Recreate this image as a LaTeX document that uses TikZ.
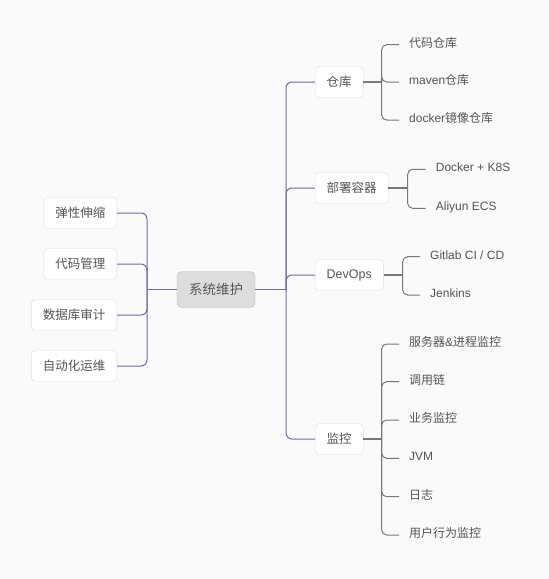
\documentclass[tikz,border=0pt]{standalone}
\usepackage{fontspec}
\setmainfont{Liberation Sans}
\newfontfamily\cjk{Noto Sans CJK SC}

\definecolor{bg}{HTML}{FAFAFA}
\definecolor{mainline}{HTML}{7168B0}
\definecolor{subline}{HTML}{7D7575}
\definecolor{txt}{HTML}{555555}
\definecolor{boxline}{HTML}{DCDCDC}
\definecolor{rootfill}{HTML}{DDDDDD}
\definecolor{rootline}{HTML}{B4B4B4}

\tikzset{
  topic/.style={draw=boxline, fill=white, rounded corners=4pt, minimum height=31pt,
    inner xsep=11.5pt, inner ysep=0pt, text=txt, font=\fontsize{12.5}{15}\selectfont},
  leaf/.style={anchor=west, inner xsep=10pt, inner ysep=2pt, text height=8pt,
    text depth=3pt, text=txt, font=\fontsize{12}{14}\selectfont},
  mainlink/.style={draw=mainline, line width=1pt, rounded corners=6pt},
  sublink/.style={draw=subline, line width=1pt, rounded corners=5pt},
}

\begin{document}
\begin{tikzpicture}[x=1pt,y=-1pt]

        \fill[bg] (0,0) rectangle (549,579);
        \useasboundingbox (0,0) rectangle (549,579);

        \node[draw=rootline, fill=rootfill, rounded corners=5pt, minimum width=78pt,
          minimum height=36pt, text=txt, font=\fontsize{13.5}{16}\selectfont]
          (root) at (216,289.5) {\cjk 系统维护};

        \begin{scope}[every node/.style={topic,anchor=east}]
          \node (tanxing) at (117,213) {\cjk 弹性伸缩};
          \node (daima)   at (117,264) {\cjk 代码管理};
          \node (shuju)   at (117,315) {\cjk 数据库审计};
          \node (zidong)  at (117,366) {\cjk 自动化运维};
        \end{scope}

        \begin{scope}[every node/.style={topic,anchor=west}]
          \node (cangku)   at (315,82)  {\cjk 仓库};
          \node (bushu)    at (315,188) {\cjk 部署容器};
          \node (devops)   at (315,275) {DevOps};
          \node (jiankong) at (315,439) {\cjk 监控};
        \end{scope}

        \begin{scope}[every node/.style={leaf}]
          \node (ck1) at (399,44.7)  {\cjk 代码仓库};
          \node (ck2) at (399,82)    {maven{\cjk 仓库}};
          \node (ck3) at (399,120)   {docker{\cjk 镜像仓库}};
          \node (bs1) at (425.7,169.3) {Docker + K8S};
          \node (bs2) at (425.7,208.3) {Aliyun ECS};
          \node (dv1) at (420,256.7) {Gitlab CI / CD};
          \node (dv2) at (420,295)   {Jenkins};
          \node (jk1) at (399,344)   {{\cjk 服务器}\&{\cjk 进程监控}};
          \node (jk2) at (399,381.7) {\cjk 调用链};
          \node (jk3) at (399,420)   {\cjk 业务监控};
          \node (jk4) at (399,458.3) {JVM};
          \node (jk5) at (399,496.7) {\cjk 日志};
          \node (jk6) at (399,535)   {\cjk 用户行为监控};
        \end{scope}

        % trunks
        \coordinate (lt) at (147,289.5);
        \coordinate (rt) at (286,289.5);
        \coordinate (ck) at (381.7,82);
        \coordinate (bs) at (407.7,188);
        \coordinate (dv) at (402.7,275);
        \coordinate (jk) at (381.7,439);

        \draw[mainlink, line width=1.6pt] (root.west) -- (lt);
        \draw[mainlink, line width=1.6pt] (root.east) -- (rt);
        \draw[mainlink] (lt) |- (tanxing.east);
        \draw[mainlink] (lt) |- (daima.east);
        \draw[mainlink] (lt) |- (shuju.east);
        \draw[mainlink] (lt) |- (zidong.east);
        \draw[mainlink] (rt) |- (cangku.west);
        \draw[mainlink] (rt) |- (bushu.west);
        \draw[mainlink] (rt) |- (devops.west);
        \draw[mainlink] (rt) |- (jiankong.west);

        % sub branches
        \draw[sublink, line width=1.6pt] (cangku.east) -- (ck);
        \draw[sublink] (ck) |- (ck1.west);
        \draw[sublink] (ck) |- (ck2.west);
        \draw[sublink] (ck) |- (ck3.west);

        \draw[sublink, line width=1.6pt] (bushu.east) -- (bs);
        \draw[sublink] (bs) |- (bs1.west);
        \draw[sublink] (bs) |- (bs2.west);

        \draw[sublink, line width=1.6pt] (devops.east) -- (dv);
        \draw[sublink] (dv) |- (dv1.west);
        \draw[sublink] (dv) |- (dv2.west);

        \draw[sublink, line width=1.6pt] (jiankong.east) -- (jk);
        \draw[sublink] (jk) |- (jk1.west);
        \draw[sublink] (jk) |- (jk2.west);
        \draw[sublink] (jk) |- (jk3.west);
        \draw[sublink] (jk) |- (jk4.west);
        \draw[sublink] (jk) |- (jk5.west);
        \draw[sublink] (jk) |- (jk6.west);

      \end{tikzpicture}
\end{document}
